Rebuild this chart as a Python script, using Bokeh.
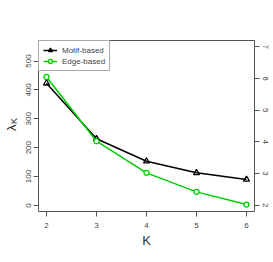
from bokeh.plotting import figure
from bokeh.models import Range1d, LinearAxis, FixedTicker, Legend, LegendItem
from bokeh.embed import file_html
from bokeh.resources import INLINE

K = [2, 3, 4, 5, 6]
motif_based = [423, 231, 153, 113, 90]
edge_based = [6.05, 4.02, 3.02, 2.42, 2.02]
left_ticks = [0, 100, 200, 300, 400, 500]
right_ticks = [2, 3, 4, 5, 6, 7]

GREEN = "#00CD00"
AXC = "#555555"
TXC = "#444444"
NB = "\u00a0"

p = figure(width=273, height=254, output_backend="svg", toolbar_location=None,
           x_range=Range1d(1.84, 6.16), y_range=Range1d(-21, 571),
           min_border_left=37, min_border_right=19, min_border_top=40, min_border_bottom=43)
p.extra_y_ranges = {"right": Range1d(1.8, 7.2)}
p.xgrid.visible = False
p.ygrid.visible = False
p.outline_line_color = AXC
p.outline_line_width = 1
p.background_fill_color = "white"
p.border_fill_color = "white"

def style(ax, ticks, fs="8px"):
    ax.ticker = FixedTicker(ticks=ticks)
    ax.axis_line_color = None
    ax.major_tick_line_color = AXC
    ax.major_tick_out = 5
    ax.major_tick_in = 0
    ax.minor_tick_line_color = None
    ax.major_label_text_font = "Liberation Sans"
    ax.major_label_text_font_size = fs
    ax.major_label_text_color = TXC
    ax.axis_label_text_font = "Liberation Sans"
    ax.axis_label_text_font_style = "normal"
    ax.axis_label_text_color = "#333333"

xa = p.xaxis[0]
style(xa, K)
xa.major_label_standoff = 6
xa.axis_label = "K"
xa.axis_label_text_font_size = "13px"
xa.axis_label_standoff = 2

# main left axis; its label carries the subscript K of lambda_K
ya = p.yaxis[0]
style(ya, left_ticks)
ya.major_label_orientation = "vertical"
ya.major_label_standoff = 2
ya.axis_label = NB * 4 + "K"
ya.axis_label_text_font_size = "9px"
ya.axis_label_standoff = 5

# outer, tick-less left axis that carries the lambda
lam_axis = LinearAxis(ticker=FixedTicker(ticks=[]), axis_line_color=None,
                      major_tick_line_color=None, minor_tick_line_color=None,
                      major_label_text_font_size="0px",
                      axis_label="λ" + NB, axis_label_standoff=-13,
                      axis_label_text_font="Liberation Sans",
                      axis_label_text_font_style="normal",
                      axis_label_text_font_size="13px",
                      axis_label_text_color="#333333")
p.add_layout(lam_axis, "left")

ra = LinearAxis(y_range_name="right")
style(ra, right_ticks)
ra.major_label_orientation = "vertical"
ra.major_label_standoff = 3
p.add_layout(ra, "right")

l1 = p.line(K, motif_based, line_color="black", line_width=1.5)
s1 = p.scatter(K, motif_based, marker="triangle", size=6, fill_color=None,
               line_color="black", line_width=1.3)
l2 = p.line(K, edge_based, line_color=GREEN, line_width=1.5, y_range_name="right")
s2 = p.scatter(K, edge_based, marker="circle", size=5, fill_color="white",
               line_color=GREEN, line_width=1.3, y_range_name="right")

legend = Legend(items=[LegendItem(label="Motif-based", renderers=[l1, s1]),
                       LegendItem(label="Edge-based", renderers=[l2, s2])],
                location="top_left", margin=0, padding=4, spacing=1,
                glyph_width=14, glyph_height=10, label_height=10,
                label_text_font="Liberation Sans", label_text_font_size="8px",
                label_standoff=5, border_line_color=AXC, border_line_width=1,
                background_fill_alpha=1)
p.add_layout(legend)

open("out.html", "w").write(file_html(p, INLINE))
